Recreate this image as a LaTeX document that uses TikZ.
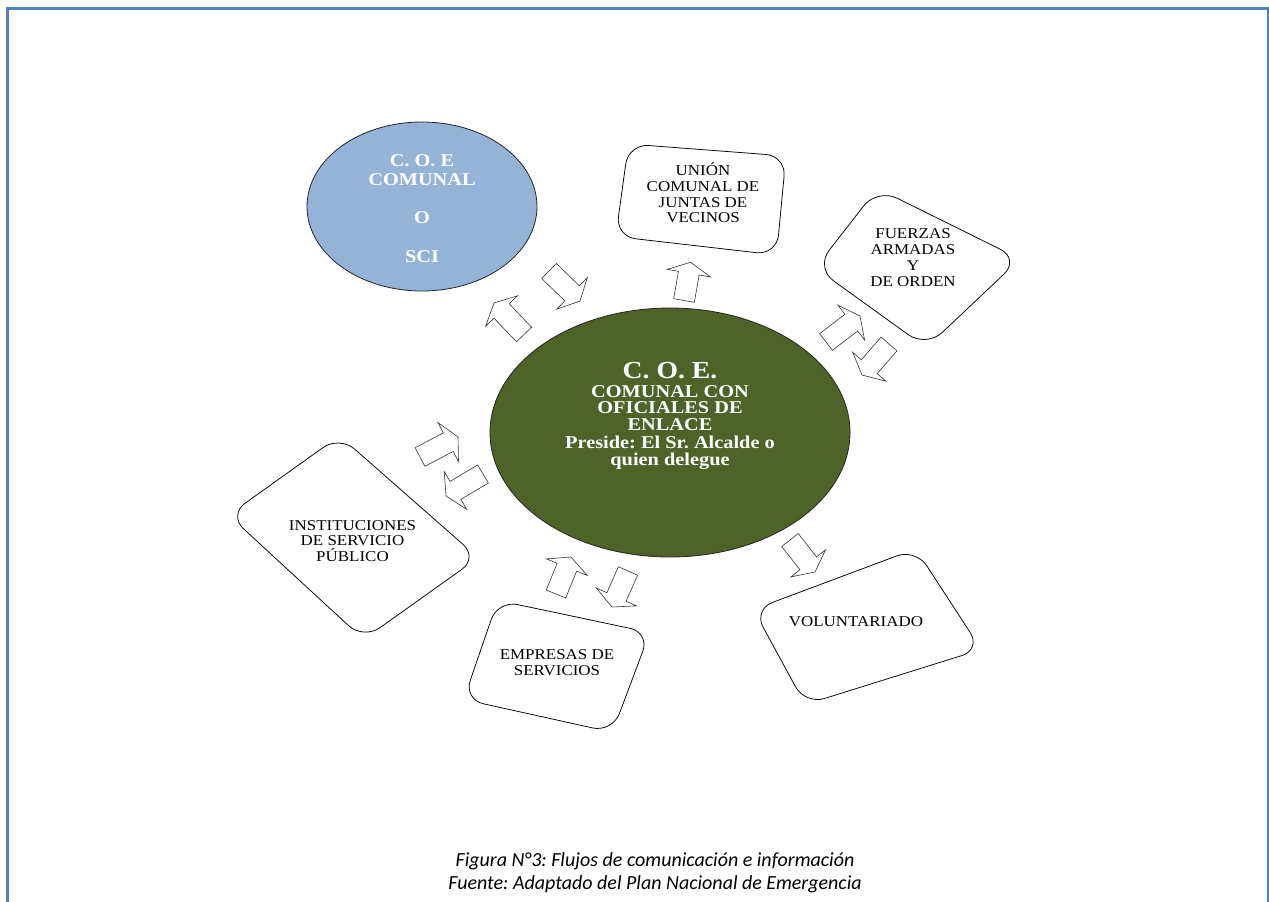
\documentclass[tikz,border=0pt]{standalone}
\usepackage{fontspec}
\setmainfont{Liberation Serif}[FakeStretch=1.13]
\newfontfamily\capfnt{Carlito}
\usetikzlibrary{calc,shapes.geometric}
\definecolor{coegreen}{HTML}{4F6228}
\definecolor{coeblue}{HTML}{95B3D7}
\definecolor{frameblue}{HTML}{4F81BD}
\frenchspacing
\newcommand\mylines[1]{\begin{tabular}[t]{@{}c@{}}#1\end{tabular}}
\newcommand\blockarr[2]{%
  \coordinate (#1-b) at ($(#2)!11pt!(#1)$);
  \draw[blockarrow] ($(#1)!10.5pt!90:(#2)$) -- ($(#1-b)!10.5pt!90:(#2)$) -- ($(#1-b)!22pt!90:(#2)$) -- (#2) -- ($(#1-b)!22pt!-90:(#2)$) -- ($(#1-b)!10.5pt!-90:(#2)$) -- ($(#1)!10.5pt!-90:(#2)$) -- cycle;}
\tikzset{
  boxline/.style={draw=black, line width=0.75pt, rounded corners=20pt},
  blockarrow/.style={draw=black!80, line width=0.6pt, fill=white},
  boxtext/.style={anchor=base, inner sep=0pt, font=\fontsize{15}{15.8}\selectfont},
  ovaltext/.style={anchor=base, inner sep=0pt, text=white, font=\bfseries\fontsize{18}{16.5}\selectfont},
  oval/.style={ellipse, draw=black!85, line width=0.8pt, inner sep=0pt}
}
\begin{document}
\begin{tikzpicture}[x=1pt,y=-1pt]
\useasboundingbox (0,0) rectangle (1269,902);
\fill[white] (0,0) rectangle (1269,902);
\draw[frameblue, line width=3pt] (7.5,903) -- (7.5,8.5) -- (1268.5,8.5) -- (1268.5,903);

% small ellipse
\node[oval, fill=coeblue, minimum width=230pt, minimum height=169pt] (sci) at (422,206.5) {};
\node[ovaltext, font=\bfseries\fontsize{18}{19.3}\selectfont] (scit) at (422,166) {\mylines{C. O. E\\COMUNAL\\ \\O\\ \\SCI}};

% big ellipse
\node[oval, fill=coegreen, minimum width=360pt, minimum height=249pt] (coe) at (670,432.5) {};
\node[ovaltext, font=\bfseries\fontsize{24.5}{25}\selectfont] (coet) at (670,378) {C. O. E.};
\node[ovaltext] (coeb) at (670,397) {\mylines{COMUNAL CON\\OFICIALES DE\\ENLACE\\Preside: El Sr. Alcalde o\\quien delegue}};

% boxes
\draw[boxline] (628.5,144) -- (786,156) -- (776.6,255) -- (615.7,236.5) -- cycle;
\node[boxtext] (uni) at (703,175.5) {\mylines{UNIÓN\\COMUNAL DE\\JUNTAS DE\\VECINOS}};

\draw[boxline, rounded corners=22pt] (877.3,188.4) -- (1020,259) -- (926.2,347.6) -- (815.5,267.8) -- cycle;
\node[boxtext, font=\fontsize{15}{16.3}\selectfont] (fue) at (913,238) {\mylines{FUERZAS\\ARMADAS\\Y\\DE ORDEN}};

\draw[boxline] (339.5,435.8) -- (478.2,557.7) -- (363.5,639.4) -- (228.6,515) -- cycle;
\node[boxtext] (ins) at (352.5,530) {\mylines{INSTITUCIONES\\DE SERVICIO\\\smash{PÚBLICO}}};

\draw[boxline] (497.8,600.4) -- (649.8,632.5) -- (612.4,732.3) -- (463.7,699.4) -- cycle;
\node[boxtext] (emp) at (557,659.5) {\mylines{EMPRESAS DE\\SERVICIOS}};

\draw[boxline] (753.5,609.5) -- (915.7,548.8) -- (981.2,649.5) -- (805.2,704.5) -- cycle;
\node[boxtext] (vol) at (856,626) {VOLUNTARIADO};

% block arrows
\coordinate (a1t) at (524,334.5);  \coordinate (a1h) at (494,303);
\coordinate (a2t) at (549,271);    \coordinate (a2h) at (580,301);
\coordinate (a3t) at (684,300.5);  \coordinate (a3h) at (690.7,262.3);
\coordinate (a4t) at (826,342);    \coordinate (a4h) at (860,316);
\coordinate (a5t) at (889,344);    \coordinate (a5h) at (862,375);
\coordinate (a6t) at (790,540);    \coordinate (a6h) at (815,572);
\coordinate (a7t) at (556,594);    \coordinate (a7h) at (571,557);
\coordinate (a8t) at (628,571);    \coordinate (a8h) at (612,607);
\coordinate (a9t) at (420,457);    \coordinate (a9h) at (458,437);
\coordinate (a10t) at (483,474);   \coordinate (a10h) at (446,496);
\blockarr{a1t}{a1h}
\blockarr{a2t}{a2h}
\blockarr{a3t}{a3h}
\blockarr{a4t}{a4h}
\blockarr{a5t}{a5h}
\blockarr{a6t}{a6h}
\blockarr{a7t}{a7h}
\blockarr{a8t}{a8h}
\blockarr{a9t}{a9h}
\blockarr{a10t}{a10h}

% caption
\node[anchor=base, inner sep=0pt, font=\capfnt\itshape\fontsize{20}{22.3}\selectfont] (cap) at (655,866.7) {\mylines{Figura N°3: Flujos de comunicación e información\\Fuente: Adaptado del Plan Nacional de Emergencia}};
\end{tikzpicture}
\end{document}
